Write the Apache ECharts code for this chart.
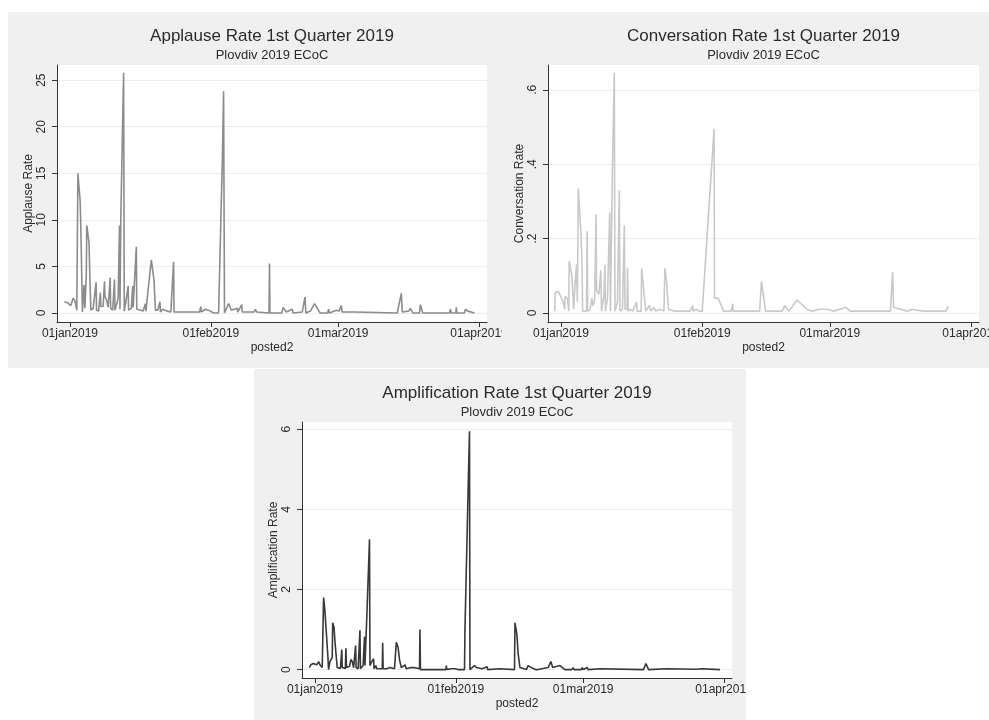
<!DOCTYPE html>
<html>
<head>
<meta charset="utf-8">
<script src="https://cdn.jsdelivr.net/npm/echarts@6/dist/echarts.min.js"></script>
<style>
  html, body { margin: 0; padding: 0; background: #ffffff; }
  .panel { position: absolute; background: #f0f0f0; overflow: hidden; }
</style>
</head>
<body>
<div id="p1" class="panel" style="left:8px;top:12px;width:494px;height:356px"></div>
<div id="p2" class="panel" style="left:502px;top:12px;width:487px;height:356px"></div>
<div id="p3" class="panel" style="left:254px;top:369px;width:492px;height:351px"></div>
<script>
// posted2 is measured in days since 01jan2019; each pair is [posted2, rate]
const dateTicks = [0, 31, 59, 90];
const dateTickLabels = ['01jan2019', '01feb2019', '01mar2019', '01apr2019'];

const applauseTicks = [0, 5, 10, 15, 20, 25];
const applauseTickLabels = ['0', '5', '10', '15', '20', '25'];
const conversationTicks = [0, 0.2, 0.4, 0.6];
const conversationTickLabels = ['0', '.2', '.4', '.6'];
const amplificationTicks = [0, 2, 4, 6];
const amplificationTickLabels = ['0', '2', '4', '6'];

const applauseRate = [
  [-1.25,1.2],[-0.6,1.1],[0.2,0.8],[0.5,0.6],[0.7,1.6],[1.1,1.3],[1.5,0.3],
  [1.75,15.0],[2.05,15.0],[2.25,12.0],[2.4,9.0],[2.75,0.1],
  [3.1,3.0],[3.3,0.5],[3.6,4.3],[3.7,9.4],[4.0,9.3],[4.2,7.5],[4.4,3.5],[4.6,0.3],
  [5.1,0.5],[5.5,0.3],[5.75,3.3],[5.85,0.3],[6.3,0.2],[6.7,2.2],[6.8,0.7],[7.3,0.7],
  [7.6,3.4],[7.7,1.8],[8.1,1.3],[8.4,0.6],[8.85,3.8],[8.95,0.5],[9.4,0.3],[9.8,3.6],
  [9.9,0.3],[10.4,1.2],[10.6,1.6],[10.9,9.4],[11.0,0.4],[11.2,10.5],[11.4,15.6],
  [11.6,20.6],[11.8,25.8],[11.95,0.2],
  [12.3,1.2],[12.6,2.2],[12.8,2.9],[12.9,0.3],[13.5,0.5],[13.8,2.9],[13.9,0.6],
  [14.3,0.6],[14.6,7.1],[14.7,0.4],[15.1,0.5],[15.5,0.3],[16.1,0.2],[16.6,1.0],
  [16.7,0.2],[17.0,0.2],[17.9,5.7],[18.2,5.5],[18.5,3.5],[18.8,0.3],[19.3,0.3],
  [19.8,1.2],[19.9,0.1],[20.4,0.4],[20.9,0.3],[21.4,0.2],[22.2,0.1],[22.8,5.5],
  [22.9,0.1],[24.0,0.1],[26.0,0.1],[28.5,0.1],[28.8,0.7],[28.9,0.1],[29.8,0.4],
  [30.9,0.2],[31.6,0.0],[32.7,0.0],[32.9,4.0],[33.1,8.0],[33.3,12.0],[33.5,15.7],
  [33.65,19.7],[33.8,23.8],[34.0,0.0],[34.9,1.0],[35.5,0.3],[35.8,0.1],[36.8,0.5],
  [36.9,0.1],[37.8,0.9],[37.9,0.1],[40.5,0.1],[40.8,0.4],[41.1,0.1],[43.8,0.0],
  [43.9,5.3],[44.0,0.0],[46.6,0.0],[46.9,0.6],[47.6,0.1],[48.9,0.4],[49.1,0.0],
  [51.1,0.1],[51.7,1.7],[51.9,0.0],[52.9,0.2],[53.8,1.0],[55.0,0.0],[56.7,0.0],
  [56.9,0.4],[57.1,0.0],[58.6,0.3],[59.0,0.5],[59.2,0.2],[59.7,0.8],[59.9,0.1],
  [62.6,0.1],[62.8,0.2],[63.0,0.0],[72.0,0.0],[72.9,2.1],[73.1,0.1],[74.5,0.2],
  [74.9,0.5],[75.4,0.0],[76.9,0.0],[77.1,0.9],[77.6,0.0],[83.5,0.0],[83.7,0.4],
  [83.9,0.0],[84.9,0.0],[85.0,0.6],[85.1,0.0],[86.8,0.0],[87.0,0.4],[87.5,0.2],
  [89.0,0.0]
];

const conversationRate = [
  [-1.35,0.005],[-1.3,0.055],[-0.6,0.058],[-0.2,0.055],[0.5,0.03],[0.8,0.01],
  [0.9,0.045],[1.4,0.04],[1.7,0.005],[1.8,0.14],[2.4,0.10],[2.8,0.01],[3.0,0.06],
  [3.4,0.13],[3.6,0.03],[3.8,0.335],[4.1,0.27],[4.4,0.21],[4.6,0.145],[4.75,0.005],
  [5.6,0.005],[5.75,0.22],[5.85,0.005],[6.4,0.01],[6.8,0.04],[7.0,0.02],[7.4,0.035],
  [7.7,0.265],[7.8,0.06],[8.3,0.05],[8.6,0.045],[8.75,0.115],[8.9,0.005],[9.4,0.045],
  [9.65,0.13],[9.75,0.005],[10.2,0.04],[10.7,0.27],[10.85,0.005],[11.0,0.135],
  [11.3,0.39],[11.5,0.52],[11.7,0.645],[11.85,0.005],[12.4,0.03],[12.8,0.33],
  [12.95,0.005],[13.5,0.01],[13.9,0.235],[14.05,0.01],[14.5,0.01],[14.6,0.12],
  [14.75,0.005],[15.2,0.01],[15.8,0.005],[16.6,0.03],[16.7,0.005],[17.6,0.005],
  [17.7,0.12],[18.1,0.07],[18.6,0.005],[19.4,0.02],[19.8,0.005],[20.4,0.015],
  [20.8,0.005],[21.7,0.01],[22.6,0.005],[22.8,0.12],[23.2,0.08],[23.6,0.01],
  [25.0,0.005],[28.3,0.005],[28.9,0.02],[29.0,0.005],[29.8,0.01],[30.3,0.005],
  [31.0,0.005],[33.6,0.495],[33.7,0.04],[34.5,0.04],[35.7,0.005],[37.4,0.005],
  [37.7,0.025],[37.8,0.005],[39.4,0.005],[39.7,0.01],[41.5,0.005],[41.6,0.01],
  [43.6,0.005],[44.0,0.085],[44.9,0.005],[47.2,0.005],[47.4,0.01],[48.6,0.005],
  [49.1,0.02],[50.0,0.005],[51.8,0.035],[54.0,0.01],[55.2,0.005],[56.6,0.01],
  [57.0,0.005],[58.6,0.01],[59.8,0.005],[62.5,0.015],[63.5,0.005],[68.0,0.005],
  [72.3,0.005],[72.8,0.11],[73.0,0.015],[74.6,0.01],[76.0,0.005],[77.0,0.01],
  [79.5,0.005],[84.5,0.005],[85.0,0.018]
];

const amplificationRate = [
  [-1.25,0.05],[-0.9,0.12],[-0.4,0.15],[0.0,0.15],[0.4,0.12],[0.8,0.2],[1.2,0.1],
  [1.6,0.05],[1.9,1.8],[2.2,1.45],[2.4,1.1],[2.8,0.4],[3.0,0.0],[3.3,0.2],[3.8,0.3],
  [3.9,1.17],[4.2,1.05],[4.4,0.7],[4.7,0.3],[4.9,0.05],[5.6,0.03],[5.9,0.5],
  [6.0,0.05],[6.7,0.03],[6.8,0.53],[6.95,0.05],[7.6,0.08],[7.9,0.25],[8.2,0.2],
  [8.5,0.05],[8.95,0.6],[9.05,0.05],[9.5,0.02],[9.9,0.98],[10.0,0.02],[10.6,0.1],
  [10.9,0.82],[11.0,0.1],[11.4,1.3],[11.6,1.95],[11.8,2.6],[12.0,3.25],[12.1,0.1],
  [12.5,0.2],[12.9,0.27],[13.0,0.02],[13.4,0.1],[13.6,0.02],[14.8,0.02],[14.9,0.67],
  [15.0,0.02],[15.8,0.02],[16.5,0.05],[17.5,0.02],[17.9,0.68],[18.3,0.55],
  [18.6,0.25],[19.0,0.05],[19.8,0.12],[20.1,0.02],[21.1,0.05],[21.8,0.05],
  [23.0,0.02],[23.1,1.0],[23.2,0.0],[28.8,0.0],[28.9,0.1],[29.0,0.0],[29.8,0.02],
  [30.8,0.02],[31.5,0.0],[32.9,0.0],[33.0,1.0],[33.2,2.0],[33.4,3.0],[33.6,4.0],
  [33.8,5.0],[34.0,5.95],[34.1,0.0],[35.1,0.1],[35.5,0.05],[36.8,0.02],[37.9,0.07],
  [38.0,0.0],[40.7,0.02],[40.9,0.0],[43.9,0.0],[44.0,1.17],[44.4,0.9],[44.7,0.4],
  [45.1,0.05],[46.5,0.0],[46.9,0.1],[47.6,0.05],[48.5,0.0],[48.9,0.04],[49.1,0.0],
  [51.3,0.05],[51.9,0.2],[52.3,0.05],[53.9,0.1],[55.0,0.0],[56.5,0.0],[56.8,0.05],
  [57.0,0.0],[58.6,0.0],[58.8,0.05],[59.0,0.0],[59.9,0.05],[60.1,0.0],[62.8,0.02],
  [63.0,0.0],[72.3,0.0],[72.8,0.15],[73.4,0.0],[77.4,0.02],[77.6,0.0],[83.9,0.01],
  [85.1,0.02],[85.3,0.0],[89.1,0.0]
];

const FONT = '"Liberation Sans", Arial, Helvetica, sans-serif';
const INK = '#2b2b2b';

function labelFor(ticks, labels) {
  return function (v) {
    let best = 0;
    for (let i = 1; i < ticks.length; i++) {
      if (Math.abs(ticks[i] - v) < Math.abs(ticks[best] - v)) best = i;
    }
    return labels[best];
  };
}

function buildOption(cfg) {
  const g = cfg.grid;
  return {
    animation: false,
    backgroundColor: '#f0f0f0',
    title: {
      text: cfg.title,
      subtext: 'Plovdiv 2019 ECoC',
      left: g.left + g.width / 2,
      textAlign: 'center',
      top: 16,
      padding: 0,
      itemGap: 4,
      textStyle: { fontFamily: FONT, fontSize: 17, fontWeight: 'normal', color: INK },
      subtextStyle: { fontFamily: FONT, fontSize: 13, color: INK }
    },
    grid: {
      left: g.left, top: g.top, width: g.width, height: g.height,
      outerBoundsMode: 'none', containLabel: false,
      show: true, backgroundColor: '#ffffff', borderWidth: 0
    },
    xAxis: {
      type: 'value',
      min: -2.85,
      max: 91.75,
      name: 'posted2',
      nameLocation: 'middle',
      nameGap: 20,
      nameMoveOverlap: false,
      nameTextStyle: { fontFamily: FONT, fontSize: 12, color: INK },
      axisLine: { show: true, onZero: false, lineStyle: { color: '#333333', width: 1 } },
      axisTick: { show: true, length: 5, customValues: dateTicks, lineStyle: { color: '#333333' } },
      axisLabel: {
        customValues: dateTicks, margin: 6, hideOverlap: false,
        fontFamily: FONT, fontSize: 12, color: INK,
        formatter: labelFor(dateTicks, dateTickLabels)
      },
      splitLine: { show: false }
    },
    yAxis: {
      type: 'value',
      min: cfg.yMin,
      max: cfg.yMax,
      name: cfg.yName,
      nameLocation: 'middle',
      nameGap: 22,
      nameMoveOverlap: false,
      nameTextStyle: { fontFamily: FONT, fontSize: 12, color: INK },
      axisLine: { show: true, onZero: false, lineStyle: { color: '#333333', width: 1 } },
      axisTick: { show: true, length: 5, customValues: cfg.yTicks, lineStyle: { color: '#333333' } },
      axisLabel: {
        customValues: cfg.yTicks, rotate: 90, margin: 9,
        fontFamily: FONT, fontSize: 12, color: INK,
        formatter: labelFor(cfg.yTicks, cfg.yTickLabels)
      },
      splitLine: { show: true, lineStyle: { color: '#eeeeee', width: 1 } }
    },
    series: [{
      type: 'line',
      data: cfg.data,
      showSymbol: false,
      symbol: 'none',
      clip: true,
      lineStyle: { color: cfg.color, width: 1.6 }
    }]
  };
}

const panels = [
  {
    el: 'p1', title: 'Applause Rate 1st Quarter 2019', yName: 'Applause Rate',
    grid: { left: 49, top: 53, width: 430, height: 257 },
    yMin: -0.97, yMax: 26.63, yTicks: applauseTicks, yTickLabels: applauseTickLabels,
    data: applauseRate, color: '#8c8c8c'
  },
  {
    el: 'p2', title: 'Conversation Rate 1st Quarter 2019', yName: 'Conversation Rate',
    grid: { left: 46, top: 53, width: 431, height: 257 },
    yMin: -0.0242, yMax: 0.6667, yTicks: conversationTicks, yTickLabels: conversationTickLabels,
    data: conversationRate, color: '#c9c9c9'
  },
  {
    el: 'p3', title: 'Amplification Rate 1st Quarter 2019', yName: 'Amplification Rate',
    grid: { left: 48, top: 53, width: 430, height: 256 },
    yMin: -0.21, yMax: 6.18, yTicks: amplificationTicks, yTickLabels: amplificationTickLabels,
    data: amplificationRate, color: '#383838'
  }
];

panels.forEach(function (p) {
  const chart = echarts.init(document.getElementById(p.el), null, { renderer: 'canvas' });
  chart.setOption(buildOption(p));
});
</script>
</body>
</html>
